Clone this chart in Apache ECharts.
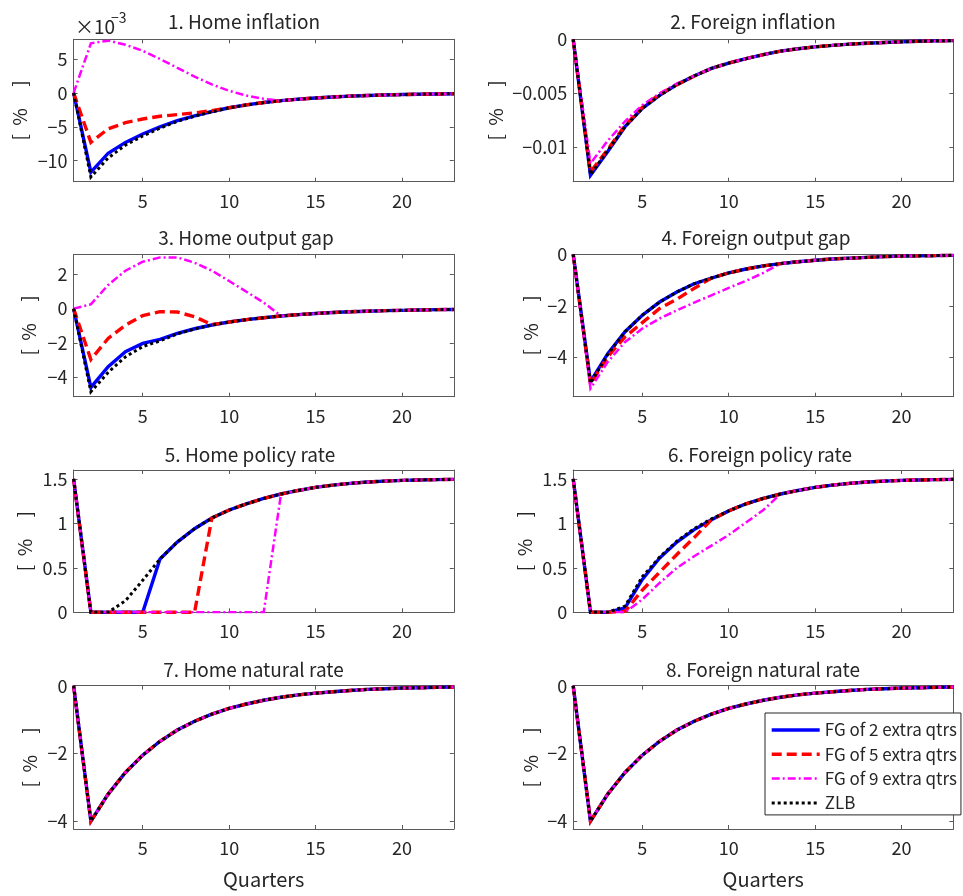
<!DOCTYPE html>
<html>
<head>
<meta charset="utf-8">
<script src="https://cdn.jsdelivr.net/npm/echarts@6/dist/echarts.min.js"></script>
<style>
html,body{margin:0;padding:0;background:#fff;}
#chart{width:963px;height:896px;}
</style>
</head>
<body>
<div id="chart"></div>
<script>
// ---------------- DATA ----------------
const quarters = [1,2,3,4,5,6,7,8,9,10,11,12,13,14,15,16,17,18,19,20,21,22,23];
const scenarioNames = ['FG of 2 extra qtrs', 'FG of 5 extra qtrs', 'FG of 9 extra qtrs', 'ZLB'];
const panelTitles = ['1. Home inflation', '2. Foreign inflation', '3. Home output gap', '4. Foreign output gap',
  '5. Home policy rate', '6. Foreign policy rate', '7. Home natural rate', '8. Foreign natural rate'];
const xTicks = [5, 10, 15, 20];
const xTickLabels = ['5', '10', '15', '20'];
const xAxisLabel = 'Quarters';
const yAxisLabel = '[  %     ]';
const inflationExponentBase = '×10';
const inflationExponent = '−3';

// 1. Home inflation (in units of 1e-3 %)
const homeInflation_FG2 = [0, -11.7, -8.9, -7.3, -6.07, -5.0, -4.1, -3.4, -2.75, -2.2, -1.78, -1.42, -1.15, -0.93, -0.75, -0.6, -0.48, -0.39, -0.31, -0.25, -0.2, -0.16, -0.13];
const homeInflation_FG5 = [0, -7.3, -5.3, -4.4, -3.85, -3.45, -3.2, -2.95, -2.62, -2.2, -1.78, -1.42, -1.15, -0.93, -0.75, -0.6, -0.48, -0.39, -0.31, -0.25, -0.2, -0.16, -0.13];
const homeInflation_FG9 = [0, 7.3, 7.7, 7.1, 6.2, 5.0, 3.7, 2.4, 1.25, 0.3, -0.4, -0.88, -1.15, -0.93, -0.75, -0.6, -0.48, -0.39, -0.31, -0.25, -0.2, -0.16, -0.13];
const homeInflation_ZLB = [0, -12.4, -9.6, -7.7, -6.35, -5.2, -4.2, -3.45, -2.8, -2.22, -1.79, -1.43, -1.15, -0.93, -0.75, -0.6, -0.48, -0.39, -0.31, -0.25, -0.2, -0.16, -0.13];
const homeInflationTicks = [-10, -5, 0, 5];
const homeInflationTickLabels = ['−10', '−5', '0', '5'];

// 2. Foreign inflation (%)
const foreignInflation_FG2 = [0, -0.0126, -0.0104, -0.0081, -0.0064, -0.0052, -0.0042, -0.0034, -0.0027, -0.0022, -0.0018, -0.00142, -0.0011, -0.00088, -0.0007, -0.00056, -0.00045, -0.00036, -0.00029, -0.00023, -0.00018, -0.00015, -0.00012];
const foreignInflation_FG5 = [0, -0.0123, -0.0102, -0.008, -0.0063, -0.0051, -0.0042, -0.0034, -0.0027, -0.0022, -0.0018, -0.00142, -0.0011, -0.00088, -0.0007, -0.00056, -0.00045, -0.00036, -0.00029, -0.00023, -0.00018, -0.00015, -0.00012];
const foreignInflation_FG9 = [0, -0.0115, -0.0094, -0.0076, -0.0061, -0.005, -0.0041, -0.0034, -0.0027, -0.0022, -0.0018, -0.00142, -0.0011, -0.00088, -0.0007, -0.00056, -0.00045, -0.00036, -0.00029, -0.00023, -0.00018, -0.00015, -0.00012];
const foreignInflation_ZLB = [0, -0.01255, -0.0103, -0.0081, -0.0064, -0.0052, -0.0042, -0.0034, -0.0027, -0.0022, -0.0018, -0.00142, -0.0011, -0.00088, -0.0007, -0.00056, -0.00045, -0.00036, -0.00029, -0.00023, -0.00018, -0.00015, -0.00012];
const foreignInflationTicks = [-0.01, -0.005, 0];
const foreignInflationTickLabels = ['−0.01', '−0.005', '0'];

// 3. Home output gap (%)
const homeOutputGap_FG2 = [0, -4.57, -3.37, -2.5, -2.02, -1.79, -1.44, -1.17, -0.95, -0.78, -0.64, -0.53, -0.43, -0.35, -0.28, -0.23, -0.18, -0.15, -0.12, -0.1, -0.08, -0.06, -0.05];
const homeOutputGap_FG5 = [0, -2.95, -1.73, -0.96, -0.4, -0.18, -0.2, -0.47, -0.93, -0.78, -0.64, -0.53, -0.43, -0.35, -0.28, -0.23, -0.18, -0.15, -0.12, -0.1, -0.08, -0.06, -0.05];
const homeOutputGap_FG9 = [0, 0.25, 1.37, 2.2, 2.72, 2.97, 2.97, 2.66, 2.2, 1.6, 0.98, 0.35, -0.43, -0.35, -0.28, -0.23, -0.18, -0.15, -0.12, -0.1, -0.08, -0.06, -0.05];
const homeOutputGap_ZLB = [0, -4.82, -3.7, -2.8, -2.2, -1.87, -1.47, -1.18, -0.95, -0.78, -0.64, -0.53, -0.43, -0.35, -0.28, -0.23, -0.18, -0.15, -0.12, -0.1, -0.08, -0.06, -0.05];
const homeOutputGapTicks = [-4, -2, 0, 2];
const homeOutputGapTickLabels = ['−4', '−2', '0', '2'];

// 4. Foreign output gap (%)
const foreignOutputGap_FG2 = [0, -4.94, -3.85, -3.0, -2.36, -1.85, -1.46, -1.14, -0.92, -0.72, -0.57, -0.45, -0.36, -0.29, -0.23, -0.18, -0.15, -0.12, -0.09, -0.07, -0.06, -0.05, -0.04];
const foreignOutputGap_FG5 = [0, -5.02, -3.97, -3.2, -2.65, -2.1, -1.74, -1.32, -0.92, -0.72, -0.57, -0.45, -0.36, -0.29, -0.23, -0.18, -0.15, -0.12, -0.09, -0.07, -0.06, -0.05, -0.04];
const foreignOutputGap_FG9 = [0, -5.2, -4.17, -3.4, -2.88, -2.49, -2.17, -1.87, -1.59, -1.3, -1.03, -0.72, -0.36, -0.29, -0.23, -0.18, -0.15, -0.12, -0.09, -0.07, -0.06, -0.05, -0.04];
const foreignOutputGap_ZLB = [0, -5.0, -3.88, -3.0, -2.36, -1.85, -1.46, -1.14, -0.92, -0.72, -0.57, -0.45, -0.36, -0.29, -0.23, -0.18, -0.15, -0.12, -0.09, -0.07, -0.06, -0.05, -0.04];
const foreignOutputGapTicks = [-4, -2, 0];
const foreignOutputGapTickLabels = ['−4', '−2', '0'];

// 5. Home policy rate (%)
const homePolicyRate_FG2 = [1.5, 0, 0, 0, 0, 0.6, 0.79, 0.94, 1.06, 1.15, 1.22, 1.28, 1.33, 1.37, 1.405, 1.43, 1.45, 1.465, 1.475, 1.483, 1.488, 1.492, 1.495];
const homePolicyRate_FG5 = [1.5, 0, 0, 0, 0, 0, 0, 0, 1.06, 1.15, 1.22, 1.28, 1.33, 1.37, 1.405, 1.43, 1.45, 1.465, 1.475, 1.483, 1.488, 1.492, 1.495];
const homePolicyRate_FG9 = [1.5, 0, 0, 0, 0, 0, 0, 0, 0, 0, 0, 0, 1.33, 1.37, 1.405, 1.43, 1.45, 1.465, 1.475, 1.483, 1.488, 1.492, 1.495];
const homePolicyRate_ZLB = [1.5, 0, 0, 0.13, 0.36, 0.6, 0.79, 0.94, 1.06, 1.15, 1.22, 1.28, 1.33, 1.37, 1.405, 1.43, 1.45, 1.465, 1.475, 1.483, 1.488, 1.492, 1.495];
const policyRateTicks = [0, 0.5, 1, 1.5];
const policyRateTickLabels = ['0', '0.5', '1', '1.5'];

// 6. Foreign policy rate (%)
const foreignPolicyRate_FG2 = [1.5, 0, 0, 0.05, 0.37, 0.61, 0.79, 0.93, 1.04, 1.14, 1.22, 1.28, 1.33, 1.37, 1.405, 1.43, 1.45, 1.465, 1.475, 1.483, 1.488, 1.492, 1.495];
const foreignPolicyRate_FG5 = [1.5, 0, 0, 0.01, 0.25, 0.45, 0.65, 0.84, 1.04, 1.14, 1.22, 1.28, 1.33, 1.37, 1.405, 1.43, 1.45, 1.465, 1.475, 1.483, 1.488, 1.492, 1.495];
const foreignPolicyRate_FG9 = [1.5, 0, 0, 0, 0.145, 0.33, 0.5, 0.63, 0.75, 0.87, 1.01, 1.15, 1.33, 1.37, 1.405, 1.43, 1.45, 1.465, 1.475, 1.483, 1.488, 1.492, 1.495];
const foreignPolicyRate_ZLB = [1.5, 0, 0, 0.07, 0.4, 0.62, 0.8, 0.94, 1.05, 1.14, 1.22, 1.28, 1.33, 1.37, 1.405, 1.43, 1.45, 1.465, 1.475, 1.483, 1.488, 1.492, 1.495];

// 7. Home natural rate (%) - identical in all scenarios
const homeNaturalRate = [0, -4.0, -3.2, -2.56, -2.05, -1.64, -1.31, -1.05, -0.84, -0.67, -0.54, -0.43, -0.34, -0.27, -0.22, -0.18, -0.14, -0.11, -0.09, -0.07, -0.06, -0.05, -0.04];
// 8. Foreign natural rate (%) - identical in all scenarios
const foreignNaturalRate = [0, -4.0, -3.2, -2.56, -2.05, -1.64, -1.31, -1.05, -0.84, -0.67, -0.54, -0.43, -0.34, -0.27, -0.22, -0.18, -0.14, -0.11, -0.09, -0.07, -0.06, -0.05, -0.04];
const naturalRateTicks = [-4, -2, 0];
const naturalRateTickLabels = ['−4', '−2', '0'];

// ---------------- LAYOUT / STYLE ----------------
const FONT = "'Noto Sans CJK JP', 'Noto Sans', sans-serif";
const TXT = '#262626';
const AX = '#5a5a5a';
const colLeft = [73.6, 573.2];
const gridW = 380.2;
const rowTop = [39.3, 254.3, 470, 685.7];
const gridH = [142.4, 142.4, 142.3, 143.3];

const panels = [
  {series:[homeInflation_FG2, homeInflation_FG5, homeInflation_FG9, homeInflation_ZLB], min:-13.1, max:7.9, ticks:homeInflationTicks, labels:homeInflationTickLabels, gap:44, tcx:244},
  {series:[foreignInflation_FG2, foreignInflation_FG5, foreignInflation_FG9, foreignInflation_ZLB], min:-0.0132, max:0, ticks:foreignInflationTicks, labels:foreignInflationTickLabels, gap:68, tcx:753},
  {series:[homeOutputGap_FG2, homeOutputGap_FG5, homeOutputGap_FG9, homeOutputGap_ZLB], min:-5.11, max:3.15, ticks:homeOutputGapTicks, labels:homeOutputGapTickLabels, gap:35, tcx:246},
  {series:[foreignOutputGap_FG2, foreignOutputGap_FG5, foreignOutputGap_FG9, foreignOutputGap_ZLB], min:-5.52, max:0, ticks:foreignOutputGapTicks, labels:foreignOutputGapTickLabels, gap:33, tcx:756},
  {series:[homePolicyRate_FG2, homePolicyRate_FG5, homePolicyRate_FG9, homePolicyRate_ZLB], min:0, max:1.6, ticks:policyRateTicks, labels:policyRateTickLabels, gap:39, tcx:250},
  {series:[foreignPolicyRate_FG2, foreignPolicyRate_FG5, foreignPolicyRate_FG9, foreignPolicyRate_ZLB], min:0, max:1.6, ticks:policyRateTicks, labels:policyRateTickLabels, gap:39, tcx:760},
  {series:[homeNaturalRate, homeNaturalRate, homeNaturalRate, homeNaturalRate], min:-4.23, max:0, ticks:naturalRateTicks, labels:naturalRateTickLabels, gap:34, tcx:253.5},
  {series:[foreignNaturalRate, foreignNaturalRate, foreignNaturalRate, foreignNaturalRate], min:-4.23, max:0, ticks:naturalRateTicks, labels:naturalRateTickLabels, gap:33, tcx:763}
];

const seriesStyles = [
  {color:'#0000ff', width:3.4, type:'solid'},
  {color:'#ff0000', width:3.4, type:[10, 5]},
  {color:'#ff00ff', width:2.5, type:[8, 3, 2, 3]},
  {color:'#000000', width:3, type:[3, 3]}
];

function lookup(ticks, labels) {
  return function (v) {
    const i = ticks.findIndex(t => Math.abs(t - v) < 1e-9);
    return i >= 0 ? labels[i] : '';
  };
}

const grids = [], xAxes = [], yAxes = [], series = [], titles = [];
const axisLineStyle = {show:true, onZero:false, lineStyle:{color:AX, width:1}};
const labelStyle = {fontSize:18, color:TXT, fontFamily:FONT};

panels.forEach((p, i) => {
  const col = i % 2, row = Math.floor(i / 2);
  grids.push({left:colLeft[col], top:rowTop[row], width:gridW, height:gridH[row], containLabel:false});
  const isBottom = row === 3;
  xAxes.push({
    gridIndex:i, type:'value', min:1, max:23, position:'bottom',
    axisLine:axisLineStyle,
    axisTick:{show:true, inside:true, length:4, customValues:xTicks, lineStyle:{color:AX}},
    axisLabel:Object.assign({show:true, margin:10, customValues:xTicks, formatter:lookup(xTicks, xTickLabels)}, labelStyle),
    splitLine:{show:false},
    name:isBottom ? xAxisLabel : '', nameLocation:'middle', nameGap:40,
    nameTextStyle:{fontSize:20, color:TXT, fontFamily:FONT}
  });
  xAxes.push({
    gridIndex:i, type:'value', min:1, max:23, position:'top',
    axisLine:axisLineStyle,
    axisTick:{show:true, inside:true, length:4, customValues:xTicks, lineStyle:{color:AX}},
    axisLabel:{show:false}, splitLine:{show:false}
  });
  yAxes.push({
    gridIndex:i, type:'value', min:p.min, max:p.max, position:'left',
    axisLine:axisLineStyle,
    axisTick:{show:true, inside:true, length:4, customValues:p.ticks, lineStyle:{color:AX}},
    axisLabel:Object.assign({show:true, margin:6, customValues:p.ticks, formatter:lookup(p.ticks, p.labels)}, labelStyle),
    splitLine:{show:false},
    name:yAxisLabel, nameLocation:'middle', nameRotate:90, nameGap:p.gap,
    nameTextStyle:{fontSize:19, color:TXT, fontFamily:FONT}
  });
  yAxes.push({
    gridIndex:i, type:'value', min:p.min, max:p.max, position:'right',
    axisLine:axisLineStyle,
    axisTick:{show:true, inside:true, length:4, customValues:p.ticks, lineStyle:{color:AX}},
    axisLabel:{show:false}, splitLine:{show:false}
  });
  p.series.forEach((arr, s) => {
    const st = seriesStyles[s];
    series.push({
      type:'line', name:scenarioNames[s], xAxisIndex:2 * i, yAxisIndex:2 * i,
      data:quarters.map((q, k) => [q, arr[k]]),
      symbol:'none', smooth:false, silent:true,
      itemStyle:{color:st.color},
      lineStyle:{color:st.color, width:st.width, type:st.type, cap:'butt', join:'miter'},
      z:2 + s
    });
  });
  titles.push({
    text:panelTitles[i], left:p.tcx, top:[12, 228, 445, 660][row], textAlign:'center', padding:0,
    textStyle:{fontSize:19, fontWeight:'normal', color:TXT, fontFamily:FONT}
  });
});

const chart = echarts.init(document.getElementById('chart'), null, {renderer:'canvas'});
chart.setOption({
  animation:false,
  backgroundColor:'#ffffff',
  title:titles,
  grid:grids,
  xAxis:xAxes,
  yAxis:yAxes,
  series:series,
  legend:{
    data:scenarioNames, orient:'vertical', left:765, top:713,
    itemWidth:48, itemHeight:14, itemGap:6.3, itemTextGap:4,
    padding:[8, 4, 3, 5], borderColor:'#262626', borderWidth:1, borderRadius:0,
    backgroundColor:'#ffffff', selectedMode:false, z:10,
    itemStyle:{opacity:0, borderWidth:0},
    lineStyle:{width:'inherit', type:'inherit'},
    textStyle:{fontSize:17, color:TXT, fontFamily:FONT, lineHeight:18}
  },
  graphic:[
    {type:'text', x:75, y:27, z:10, style:{text:inflationExponentBase, fill:TXT, fontSize:19, fontFamily:FONT, textAlign:'left', textVerticalAlign:'middle', align:'left', verticalAlign:'middle'}},
    {type:'text', x:111, y:18, z:10, style:{text:inflationExponent, fill:TXT, fontSize:14, fontFamily:FONT, textAlign:'left', textVerticalAlign:'middle', align:'left', verticalAlign:'middle'}}
  ]
});
</script>
</body>
</html>
